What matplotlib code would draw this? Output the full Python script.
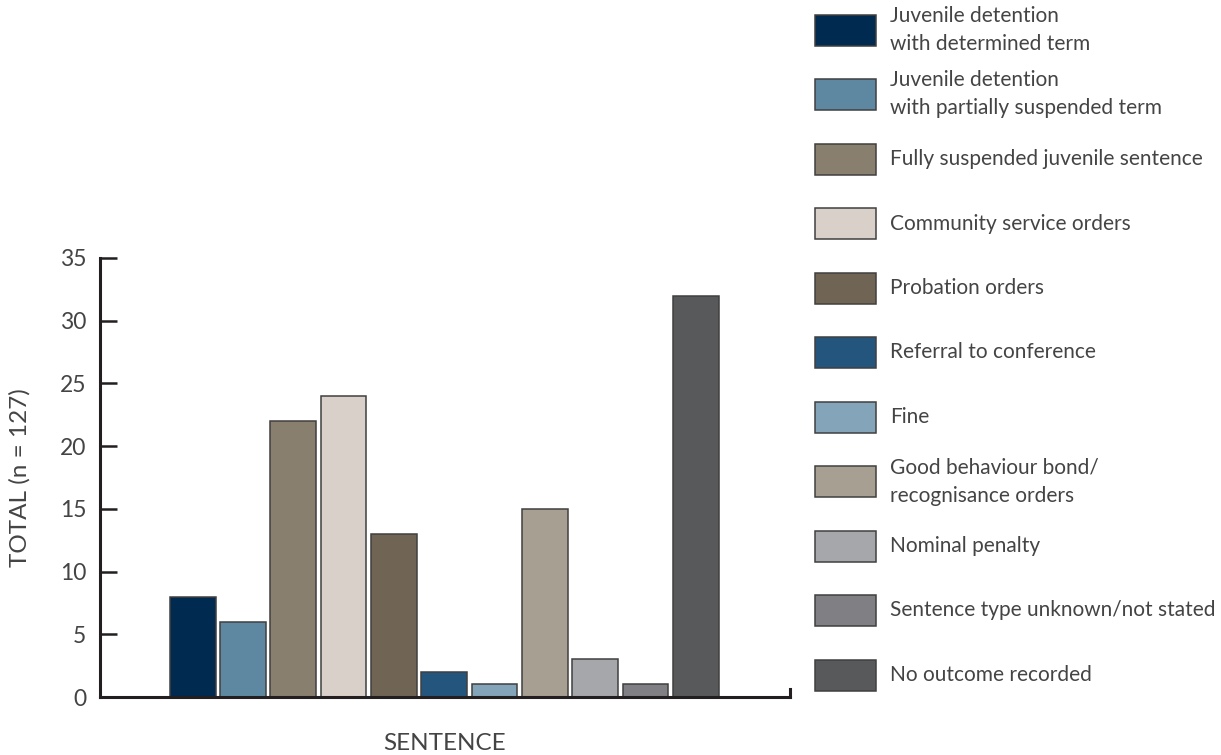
import matplotlib.pyplot as plt
from matplotlib.patches import Rectangle

plt.rcParams['font.family'] = ['Lato', 'DejaVu Sans']

# sentence categories (legend labels) and counts
categories = [
    'Juvenile detention\nwith determined term',
    'Juvenile detention\nwith partially suspended term',
    'Fully suspended juvenile sentence',
    'Community service orders',
    'Probation orders',
    'Referral to conference',
    'Fine',
    'Good behaviour bond/\nrecognisance orders',
    'Nominal penalty',
    'Sentence type unknown/not stated',
    'No outcome recorded',
]
counts = [8, 6, 22, 24, 13, 2, 1, 15, 3, 1, 32]
colors = ['#012a50', '#5e88a2', '#897f6e', '#d9d0ca', '#706455', '#24567d',
          '#84a4ba', '#a79f92', '#a6a7aa', '#808084', '#58595b']
yticks = [0, 5, 10, 15, 20, 25, 30, 35]

text_color = '#444444'

fig = plt.figure(figsize=(12.21, 7.55), dpi=100)
ax = fig.add_axes([100 / 1221, 1 - 697 / 755, 690 / 1221, (697 - 258) / 755])

x = list(range(len(counts)))
ax.bar(x, counts, width=0.91, color=colors, edgecolor='#404040', linewidth=1.1,
       zorder=2)

ax.set_ylim(0, 35)
ax.set_xlim(-1.84, 11.87)
ax.set_yticks(yticks)
ax.set_xticks([])

ax.spines['top'].set_visible(False)
for side in ['left', 'bottom', 'right']:
    ax.spines[side].set_linewidth(2.2)
    ax.spines[side].set_color('#231f20')
ax.spines['right'].set_bounds(0, 0.6)

ax.tick_params(axis='y', direction='in', length=12, width=1.8, color='#231f20',
               labelsize=16.5, labelcolor=text_color, pad=10)

ax.set_ylabel('TOTAL (n = 127)', fontsize=17.5, color=text_color, labelpad=21)
ax.set_xlabel('SENTENCE', fontsize=17.5, color=text_color, labelpad=26)

# legend drawn in pixel coordinates on its own axes
lax = fig.add_axes([0, 0, 1, 1])
lax.set_xlim(0, 1221)
lax.set_ylim(755, 0)
lax.axis('off')
for i, (lab, col) in enumerate(zip(categories, colors)):
    yc = 30 + i * 64.5
    lax.add_patch(Rectangle((815, yc - 15.5), 61, 31, facecolor=col,
                            edgecolor='#404040', linewidth=1.1))
    lax.text(890, yc, lab, fontsize=15, color=text_color,
             va='center', ha='left', linespacing=1.5)

fig.savefig('out.png', dpi=100)
